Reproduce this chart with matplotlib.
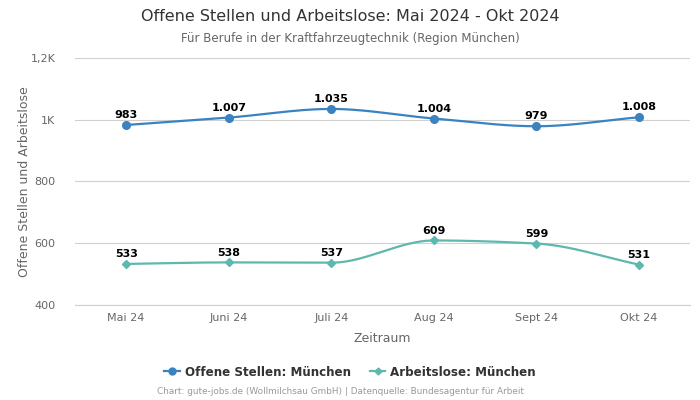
import numpy as np
import matplotlib.pyplot as plt
from matplotlib.ticker import FixedLocator
from matplotlib.lines import Line2D

# Chart data
months = ['Mai 24', 'Juni 24', 'Juli 24', 'Aug 24', 'Sept 24', 'Okt 24']
offene_stellen = [983, 1007, 1035, 1004, 979, 1008]
arbeitslose = [533, 538, 537, 609, 599, 531]
labels_stellen = ['983', '1.007', '1.035', '1.004', '979', '1.008']
labels_arbeitslose = ['533', '538', '537', '609', '599', '531']
y_ticks = [400, 600, 800, 1000, 1200]
y_tick_labels = ['400', '600', '800', '1K', '1,2K']

blue = '#3b82c0'
green = '#5db8ae'


# monotone cubic curve through the points (only for drawing the line)
def monotone_path(x, y, n=40):
    x = np.asarray(x, float)
    y = np.asarray(y, float)
    h = np.diff(x)
    d = np.diff(y) / h
    m = np.zeros_like(y)
    m[0], m[-1] = d[0], d[-1]
    for i in range(1, len(y) - 1):
        if d[i - 1] * d[i] <= 0:
            m[i] = 0
        else:
            m[i] = 2 / (1 / d[i - 1] + 1 / d[i])
    xs, ys = [], []
    for i in range(len(h)):
        t = np.linspace(0, 1, n)
        h00 = 2 * t**3 - 3 * t**2 + 1
        h10 = t**3 - 2 * t**2 + t
        h01 = -2 * t**3 + 3 * t**2
        h11 = t**3 - t**2
        xs.append(x[i] + t * h[i])
        ys.append(h00 * y[i] + h10 * h[i] * m[i] + h01 * y[i + 1] + h11 * h[i] * m[i + 1])
    return np.concatenate(xs), np.concatenate(ys)


fig = plt.figure(figsize=(7, 4), dpi=100)
ax = fig.add_axes([0.107, 0.2375, 0.879, 0.6175])

x = np.arange(len(months))

for vals, labs, col, mk, ms in [(offene_stellen, labels_stellen, blue, 'o', 5.5),
                               (arbeitslose, labels_arbeitslose, green, 'D', 3.8)]:
    sx, sy = monotone_path(x, vals)
    ax.plot(sx, sy, color=col, lw=1.6, zorder=3)
    ax.plot(x, vals, ls='none', marker=mk, color=col, ms=ms, zorder=4)
    for xi, v, t in zip(x, vals, labs):
        ax.annotate(t, (xi, v), xytext=(0, 3.5), textcoords='offset points',
                    ha='center', va='bottom', fontsize=8, fontweight='bold', color='black', zorder=5)

ax.set_xlim(-0.5, 5.5)
ax.set_ylim(400, 1200)
ax.yaxis.set_major_locator(FixedLocator(y_ticks))
ax.set_yticklabels(y_tick_labels)
ax.set_xticks(x)
ax.set_xticklabels(months)
ax.tick_params(axis='both', length=0, labelsize=8, labelcolor='#666666')
ax.tick_params(axis='y', pad=14)
ax.tick_params(axis='x', pad=6)
ax.grid(axis='y', color='#d0d0d0', lw=0.8)
ax.set_axisbelow(True)
for s in ['top', 'right', 'left']:
    ax.spines[s].set_visible(False)
ax.spines['bottom'].set_color('#d0d0d0')

ax.set_xlabel('Zeitraum', fontsize=9, color='#666666', labelpad=6)
ax.set_ylabel('Offene Stellen und Arbeitslose', fontsize=9, color='#666666', labelpad=0)

fig.text(0.5, 0.958, 'Offene Stellen und Arbeitslose: Mai 2024 - Okt 2024',
         ha='center', va='center', fontsize=11.5, color='#333333')
fig.text(0.5, 0.903, 'Für Berufe in der Kraftfahrzeugtechnik (Region München)',
         ha='center', va='center', fontsize=8.5, color='#666666')

handles = [Line2D([0], [0], color=blue, marker='o', ms=5, lw=1.6),
           Line2D([0], [0], color=green, marker='D', ms=3.5, lw=1.6)]
leg = fig.legend(handles, ['Offene Stellen: München', 'Arbeitslose: München'],
                 loc='center', bbox_to_anchor=(0.5, 0.07), ncol=2, frameon=False,
                 prop={'size': 8.6, 'weight': 'bold'}, handlelength=1.3, columnspacing=1.6,
                 handletextpad=0.4)
for t in leg.get_texts():
    t.set_color('#333333')

fig.text(0.486, 0.02, 'Chart: gute-jobs.de (Wollmilchsau GmbH) | Datenquelle: Bundesagentur für Arbeit',
         ha='center', va='center', fontsize=6.4, color='#999999')

fig.savefig('out.png', dpi=100)
